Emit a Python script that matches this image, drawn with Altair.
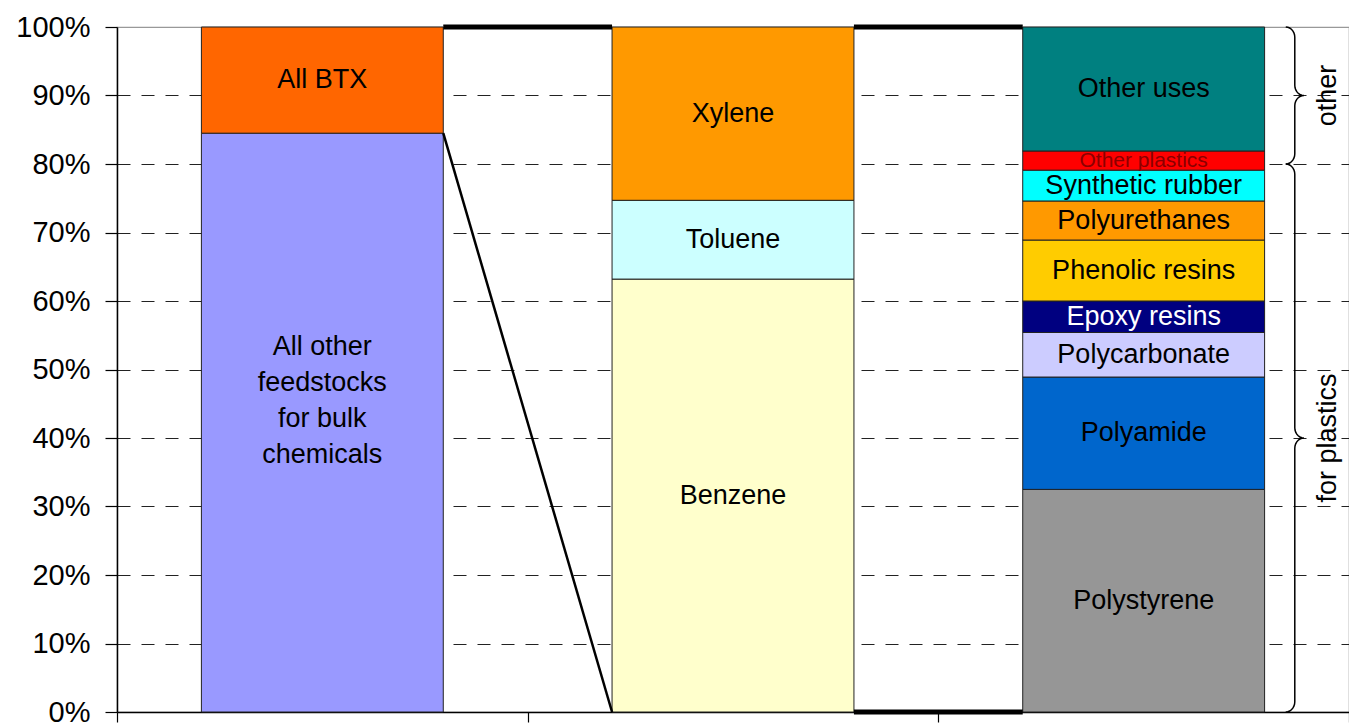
import altair as alt
import pandas as pd
import numpy as np

# ---------------- data ----------------
bar_ids = ["feedstocks", "btx", "uses"]

bar1_names = ["All other\nfeedstocks\nfor bulk\nchemicals", "All BTX"]
bar1_values = [84.5, 15.5]

bar2_names = ["Benzene", "Toluene", "Xylene"]
bar2_values = [63.2, 11.5, 25.3]

bar3_names = ["Polystyrene", "Polyamide", "Polycarbonate", "Epoxy resins",
              "Phenolic resins", "Polyurethanes", "Synthetic rubber",
              "Other plastics", "Other uses"]
bar3_values = [32.5, 16.4, 6.5, 4.6, 8.9, 5.7, 4.5, 2.8, 18.1]

brace_labels = ["for plastics", "other"]
brace_lo = [0, 80]
brace_hi = [80, 100]

y_ticks = list(range(0, 101, 10))

# ---------------- styles ----------------
seg_colors = {
    "All other\nfeedstocks\nfor bulk\nchemicals": "#9999FF",
    "All BTX": "#FF6600",
    "Benzene": "#FFFFCC",
    "Toluene": "#CCFFFF",
    "Xylene": "#FF9900",
    "Polystyrene": "#969696",
    "Polyamide": "#0066CC",
    "Polycarbonate": "#CCCCFF",
    "Epoxy resins": "#000080",
    "Phenolic resins": "#FFCC00",
    "Polyurethanes": "#FF9900",
    "Synthetic rubber": "#00FFFF",
    "Other plastics": "#FF0000",
    "Other uses": "#008080",
}
text_colors = {"Epoxy resins": "white", "Other plastics": "#8B0000"}
text_sizes = {"Other plastics": 21}
FONT = "Liberation Sans"
BAR_FRAC = 0.589          # bar width as a fraction of a category slot
HW = BAR_FRAC / 2

# ---------------- tables ----------------
rows = []
for i, (names, vals) in enumerate([(bar1_names, bar1_values),
                                    (bar2_names, bar2_values),
                                    (bar3_names, bar3_values)]):
    cum = 0.0
    for n, v in zip(names, vals):
        rows.append(dict(bar=bar_ids[i], idx=i, name=n, y0=cum, y1=cum + v,
                         xl=i + 0.5 - HW, xr=i + 0.5 + HW, xc=i + 0.5,
                         ym=cum + v / 2, color=seg_colors[n],
                         tcolor=text_colors.get(n, "black"),
                         fsize=text_sizes.get(n, 27),
                         multi="\n" in n))
        cum += v
seg = pd.DataFrame(rows)

# connector lines: BTX segment of bar 1 -> whole bar 2 ; whole bar 2 -> whole bar 3
btx = seg[seg.name == "All BTX"].iloc[0]
b2 = seg[seg.idx == 1]
b3 = seg[seg.idx == 2]
conn = []
conn.append(dict(x=btx.xr, x2=b2.xl.iloc[0], y=btx.y1, y2=b2.y1.max()))
conn.append(dict(x=btx.xr, x2=b2.xl.iloc[0], y=btx.y0, y2=b2.y0.min()))
conn.append(dict(x=b2.xr.iloc[0], x2=b3.xl.iloc[0], y=b2.y1.max(), y2=b3.y1.max()))
conn.append(dict(x=b2.xr.iloc[0], x2=b3.xl.iloc[0], y=b2.y0.min(), y2=b3.y0.min()))
conn = pd.DataFrame(conn)
conn["w"] = np.where(np.isclose(conn.y, conn.y2), 5.0, 2.5)

# curly braces (decoration shape following each group's range)
XC = 2.868   # brace spine position (x units)
R = 0.022    # curl width (x units)
RY = 1.5     # curl height (% units)
bpts = []
for lab, lo, hi in zip(brace_labels, brace_lo, brace_hi):
    mid = (lo + hi) / 2
    def add(x, y):
        bpts.append(dict(g=lab, k=len(bpts), x=x, y=y))
    for t in np.linspace(np.pi / 2, 0, 8):
        add(XC - R + R * np.cos(t), hi - RY + RY * np.sin(t))
    for t in np.linspace(np.pi, 1.5 * np.pi, 8):
        add(XC + R + R * np.cos(t), mid + RY + RY * np.sin(t))
    for t in np.linspace(0.5 * np.pi, np.pi, 8):
        add(XC + R + R * np.cos(t), mid - RY + RY * np.sin(t))
    for t in np.linspace(0, -0.5 * np.pi, 8):
        add(XC - R + R * np.cos(t), lo + RY + RY * np.sin(t))
bdf = pd.DataFrame(bpts)
blab = pd.DataFrame(dict(label=brace_labels,
                         y=[(a + b) / 2 for a, b in zip(brace_lo, brace_hi)],
                         x=[2.949] * len(brace_labels)))

# ---------------- scales/axes ----------------
XS = alt.Scale(domain=[0, 3], nice=False, zero=False)
YS = alt.Scale(domain=[0, 100], nice=False, zero=False)

x_axis = alt.Axis(values=[0, 1, 2, 3], labels=False, tickSize=10,
                  tickColor="black", tickWidth=1.2, domainColor="black",
                  domainWidth=1.5, grid=False, title=None)
y_axis = alt.Axis(values=y_ticks, labelExpr="datum.value + '%'",
                  tickSize=12, tickColor="black", tickWidth=1.2,
                  domainColor="black", domainWidth=1.5, labelPadding=15,
                  labelFontSize=29, labelFont=FONT, labelColor="black",
                  grid=True, gridDash=[13, 11], gridColor="#222",
                  gridWidth=1.2,
                  gridOpacity={"condition": {"test": "datum.value == 0 || datum.value == 100",
                                             "value": 0}, "value": 1},
                  title=None)


def X(f):
    return alt.X(f, scale=XS, axis=x_axis)


def Y(f):
    return alt.Y(f, scale=YS, axis=y_axis)


bars = alt.Chart(seg).mark_rect(stroke="#222", strokeWidth=1).encode(
    x=X("xl:Q"),
    x2="xr:Q",
    y=Y("y0:Q"),
    y2="y1:Q",
    color=alt.Color("color:N", scale=None),
)

labels = alt.Chart(seg[~seg.multi]).mark_text(
    font=FONT, align="center", baseline="middle"
).encode(
    x=X("xc:Q"),
    y=Y("ym:Q"),
    text="name:N",
    color=alt.Color("tcolor:N", scale=None),
    size=alt.Size("fsize:Q", scale=None),
)

labels_multi = alt.Chart(seg[seg.multi]).mark_text(
    font=FONT, fontSize=27, align="center", baseline="middle",
    lineBreak="\n", lineHeight=36, dy=-76
).encode(
    x=X("xc:Q"),
    y=Y("ym:Q"),
    text="name:N",
    color=alt.Color("tcolor:N", scale=None),
)

connectors = alt.Chart(conn).mark_rule(color="black", strokeCap="butt").encode(
    x=X("x:Q"),
    x2="x2:Q",
    y=Y("y:Q"),
    y2="y2:Q",
    strokeWidth=alt.StrokeWidth("w:Q", scale=None),
)

braces = alt.Chart(bdf).mark_line(color="black", strokeWidth=1.5).encode(
    x=X("x:Q"),
    y=Y("y:Q"),
    detail="g:N",
    order="k:Q",
)

brace_text = alt.Chart(blab).mark_text(
    font=FONT, fontSize=27, angle=270, align="center", baseline="middle",
    color="black"
).encode(
    x=X("x:Q"),
    y=Y("y:Q"),
    text="label:N",
)

chart = alt.layer(bars, connectors, labels, labels_multi, braces, brace_text).properties(
    width=1232, height=685,
    padding={"left": 109, "top": 19, "right": 0, "bottom": 14},
    autosize=alt.AutoSizeParams(type="none"),
    background="white",
).configure_view(stroke="#999999", strokeWidth=1.2)

chart.save("out.html", embed_options={"renderer": "svg", "actions": False})
